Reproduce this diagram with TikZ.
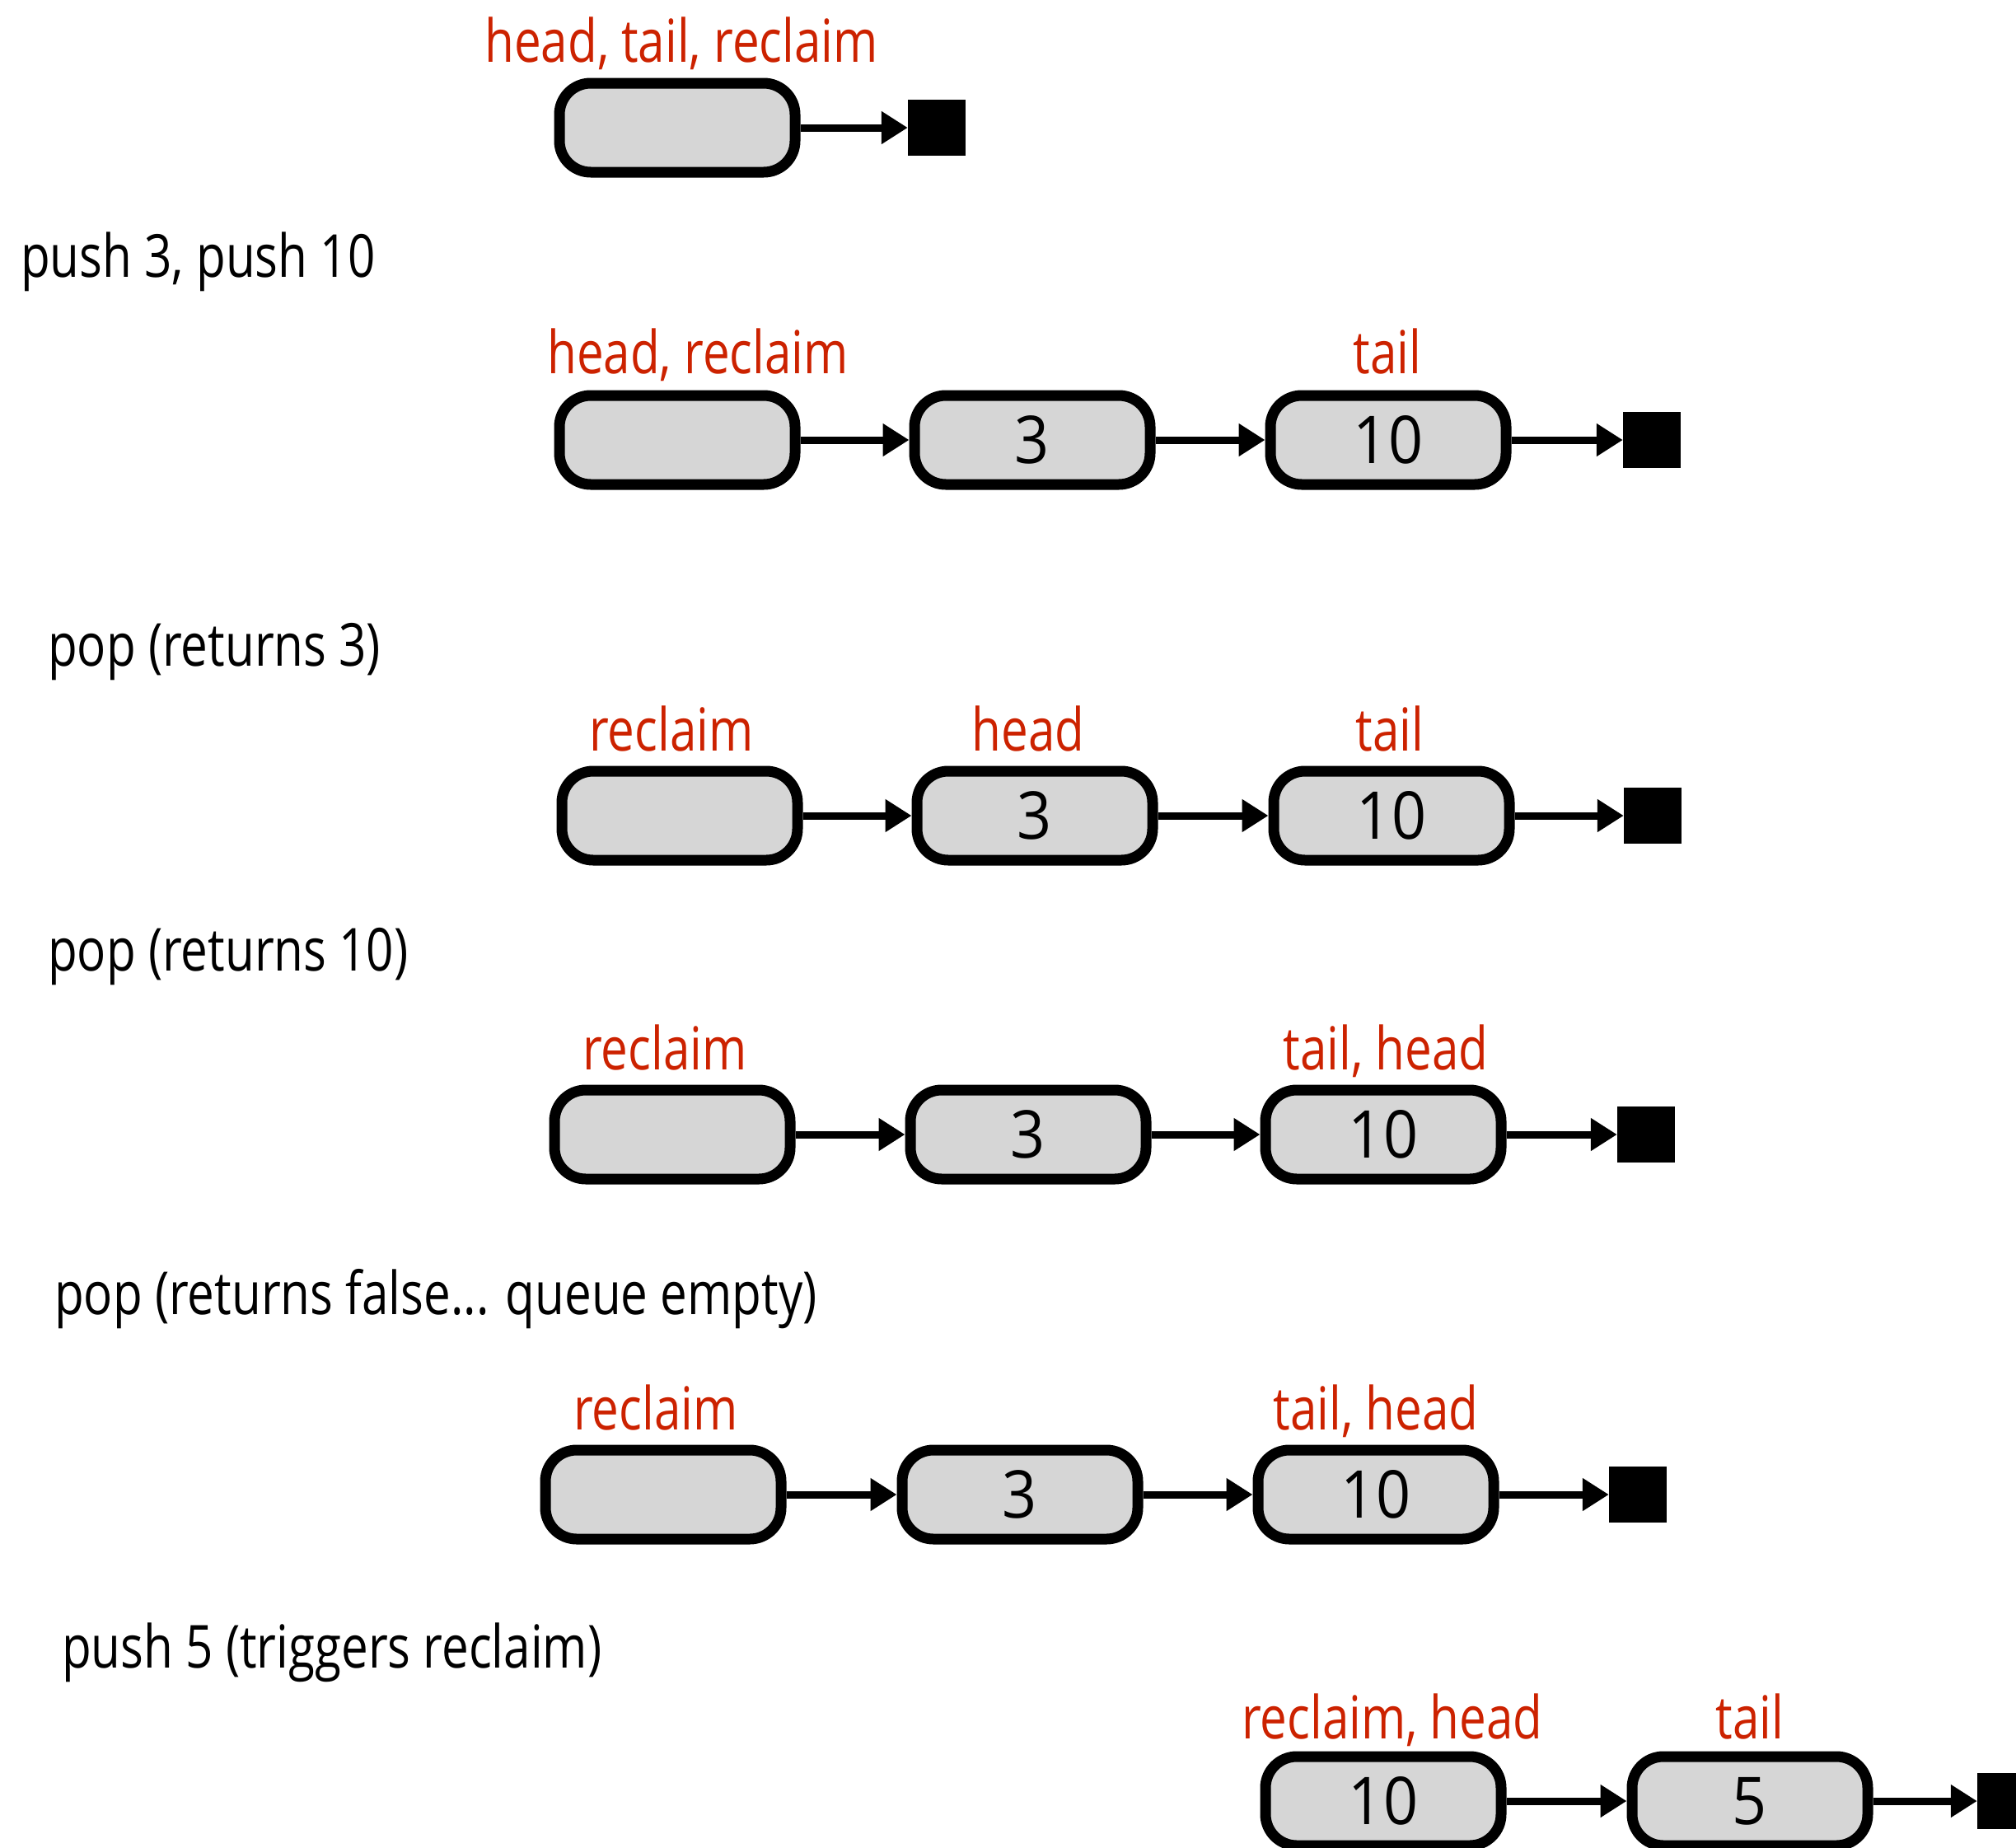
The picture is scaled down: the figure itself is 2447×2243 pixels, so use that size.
\documentclass[tikz,border=0pt]{standalone}
\usepackage{fontspec}
\setmainfont{Open Sans}[FakeStretch=0.81]
\newfontfamily\numfont{Open Sans}[FakeStretch=0.92]
\usetikzlibrary{arrows.meta}
\definecolor{lblred}{RGB}{204,34,0}
\definecolor{cellfill}{RGB}{214,214,214}
\begin{document}
\begin{tikzpicture}[x=1pt,y=-1pt,
 cell/.style={draw=black, line width=13pt, fill=cellfill, rounded corners=38pt, minimum width=286pt, minimum height=108pt, inner sep=0pt, font=\numfont\fontsize{80}{90}\selectfont},
 nil/.style={fill=black, minimum width=70pt, minimum height=68pt, inner sep=0pt},
 ptr/.style={line width=9pt, -{Triangle[length=32pt,width=38pt]}},
 tag/.style={text=lblred, anchor=base, font=\fontsize{72}{80}\selectfont, inner sep=0pt},
 oplabel/.style={text=black, anchor=base west, font=\fontsize{72}{80}\selectfont, inner sep=0pt}
]
\useasboundingbox (0,0) rectangle (2447,2243);
% row 1
\node[cell] (r1a) at (822,155) {};
\node[nil] (r1n) at (1137,155) {};
\draw[ptr] (r1a.east) -- (r1n.west);
\node[tag] (t1a) at (827,75) {head, tail, reclaim};
% op 1
\node[oplabel] (op1) at (25,336) {push 3, push 10};
% row 2
\node[cell] (r2a) at (822,534) {};
\node[cell] (r2b) at (1253,534) {3};
\node[cell] (r2c) at (1685,534) {10};
\node[nil] (r2n) at (2005,534) {};
\draw[ptr] (r2a.east) -- (r2b.west);
\draw[ptr] (r2b.east) -- (r2c.west);
\draw[ptr] (r2c.east) -- (r2n.west);
\node[tag] (t2a) at (847,453) {head, reclaim};
\node[tag] (t2c) at (1684,453) {tail};
% op 2
\node[oplabel] (op2) at (58,808) {pop (returns 3)};
% row 3
\node[cell] (r3a) at (825,990) {};
\node[cell] (r3b) at (1256,990) {3};
\node[cell] (r3c) at (1689,990) {10};
\node[nil] (r3n) at (2006,990) {};
\draw[ptr] (r3a.east) -- (r3b.west);
\draw[ptr] (r3b.east) -- (r3c.west);
\draw[ptr] (r3c.east) -- (r3n.west);
\node[tag] (t3a) at (815,911) {reclaim};
\node[tag] (t3b) at (1248,911) {head};
\node[tag] (t3c) at (1687,911) {tail};
% op 3
\node[oplabel] (op3) at (58,1178) {pop (returns 10)};
% row 4
\node[cell] (r4a) at (816,1377) {};
\node[cell] (r4b) at (1248,1377) {3};
\node[cell] (r4c) at (1679,1377) {10};
\node[nil] (r4n) at (1998,1377) {};
\draw[ptr] (r4a.east) -- (r4b.west);
\draw[ptr] (r4b.east) -- (r4c.west);
\draw[ptr] (r4c.east) -- (r4n.west);
\node[tag] (t4a) at (807,1298) {reclaim};
\node[tag] (t4c) at (1682,1298) {tail, head};
% op 4
\node[oplabel] (op4) at (66,1595) {pop (returns false... queue empty)};
% row 5
\node[cell] (r5a) at (805,1814) {};
\node[cell] (r5b) at (1238,1814) {3};
\node[cell] (r5c) at (1670,1814) {10};
\node[nil] (r5n) at (1988,1814) {};
\draw[ptr] (r5a.east) -- (r5b.west);
\draw[ptr] (r5b.east) -- (r5c.west);
\draw[ptr] (r5c.east) -- (r5n.west);
\node[tag] (t5a) at (796,1735) {reclaim};
\node[tag] (t5c) at (1670,1735) {tail, head};
% op 5
\node[oplabel] (op5) at (75,2024) {push 5 (triggers reclaim)};
% row 6
\node[cell] (r6a) at (1679,2186) {10};
\node[cell] (r6b) at (2124,2186) {5};
\node[nil] (r6n) at (2435,2186) {};
\draw[ptr] (r6a.east) -- (r6b.west);
\draw[ptr] (r6b.east) -- (r6n.west);
\node[tag] (t6a) at (1690,2110) {reclaim, head};
\node[tag] (t6b) at (2124,2110) {tail};
\end{tikzpicture}
\end{document}
